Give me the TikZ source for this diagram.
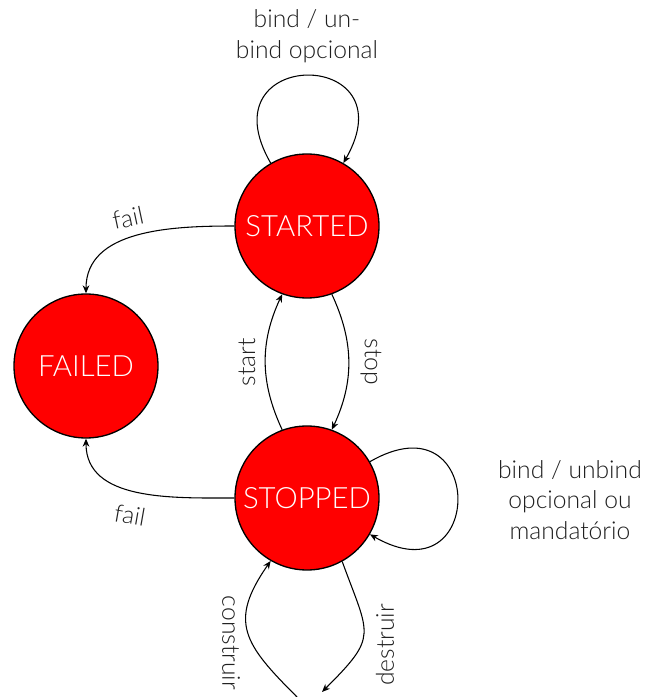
\documentclass[tikz,border=0pt]{standalone}
\usepackage{fontspec}
\setmainfont{Lato Light}
\usetikzlibrary{arrows.meta}

\begin{document}
\begin{tikzpicture}[x=0.75pt,y=0.75pt,
    state/.style={draw, circle, fill=red, text=white, line width=1pt, minimum size=108pt, inner sep=0pt, font=\fontsize{22}{26}\selectfont},
    lbl/.style={font=\fontsize{18.5}{23}\selectfont, text=black!88, align=center},
    >={Stealth[length=6pt,width=5pt]}]
    \useasboundingbox (0,0) rectangle (646,697);
    \node[state] (STARTED) at (307,471) {STARTED};
    \node[state] (FAILED) at (86,331) {FAILED};
    \node[state] (STOPPED) at (307,199) {STOPPED};
    \coordinate (new) at (297,0);
    \coordinate (gone) at (322,5);

    \draw[->, line width=0.8pt] (STARTED.120) to[out=120,in=60,distance=101pt] (STARTED.60);
    \draw[->, line width=0.8pt] (STARTED.180) to[out=180,in=90] (FAILED.90);
    \draw[->, line width=0.8pt] (STARTED.290) to[out=295,in=65] (STOPPED.70);
    \draw[->, line width=0.8pt] (STOPPED.110) to[out=115,in=245] (STARTED.250);
    \draw[->, line width=0.8pt] (STOPPED.180) to[out=180,in=270] (FAILED.270);
    \draw[->, line width=0.8pt] (STOPPED.30) to[out=30,in=-30,distance=101pt] (STOPPED.-30);
    \draw[->, line width=0.8pt] (new) to[out=135,in=235,distance=56pt] (STOPPED.240);
    \draw[->, line width=0.8pt] (STOPPED.299) to[out=290,in=45,distance=60pt] (gone);

    \node[lbl] (bindA) at (307,661) {bind / un-\\bind opcional};
    \node[lbl, rotate=12] (failA) at (128,479) {fail};
    \node[lbl, rotate=90] (startl) at (247,335) {start};
    \node[lbl, rotate=-90] (stopl) at (371,335) {stop};
    \node[lbl, rotate=-10] (failB) at (130,182) {fail};
    \node[lbl] (bindB) at (570,197) {bind / unbind\\opcional ou\\mandatório};
    \node[lbl, rotate=-90] (buildl) at (231,54) {construir};
    \node[lbl, rotate=90] (killl) at (385,52) {destruir};
\end{tikzpicture}
\end{document}
